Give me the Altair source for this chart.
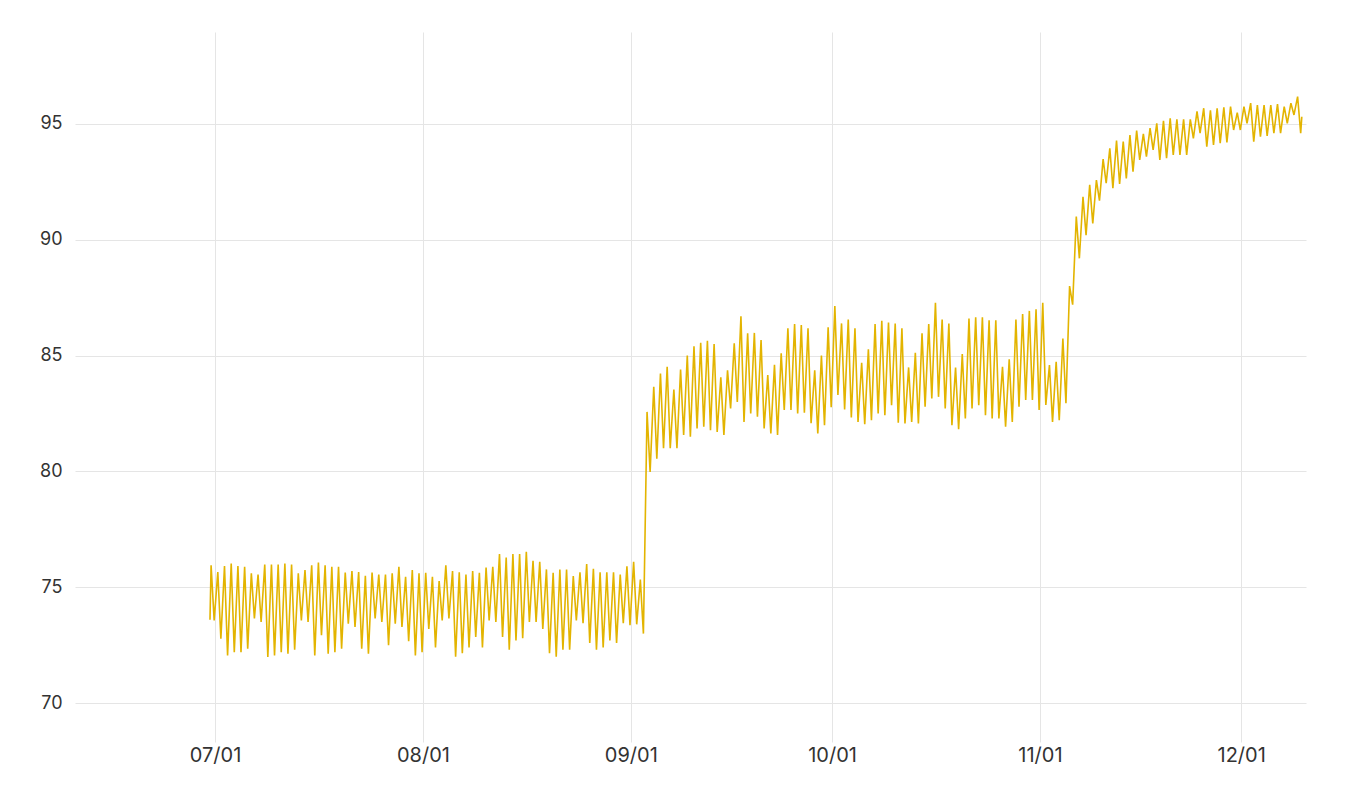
import altair as alt
import pandas as pd

# ---- data (daily high ~10:00, daily low ~21:00) ----
start_time = "2024-06-30 06:00"
start_value = 73.6
end_time = "2024-12-10 01:00"
end_value = 95.31

jun_hi = [75.95]
jun_lo = [73.57]

jul_hi = [75.66, 75.92, 76.02, 75.92, 75.88, 75.60, 75.55, 75.98, 75.98, 75.98,
          76.02, 75.98, 75.60, 75.74, 75.95, 76.07, 75.95, 75.88, 75.88, 75.64,
          75.70, 75.66, 75.50, 75.64, 75.55, 75.55, 75.60, 75.88, 75.45, 75.74,
          75.60]
jul_lo = [72.78, 72.06, 72.20, 72.20, 72.35, 73.65, 73.50, 71.99, 72.06, 72.20,
          72.13, 72.30, 73.57, 73.50, 72.06, 72.93, 72.13, 72.20, 72.35, 73.43,
          73.29, 72.35, 72.13, 73.65, 73.50, 72.50, 73.43, 73.29, 72.67, 72.06,
          72.20]

aug_hi = [75.62, 75.45, 75.27, 75.95, 75.70, 75.65, 75.55, 75.70, 75.62, 75.85,
          75.88, 76.43, 76.28, 76.43, 76.43, 76.53, 76.14, 76.10, 75.77, 75.62,
          75.77, 75.77, 75.48, 75.65, 76.00, 75.80, 75.65, 75.65, 75.65, 75.55,
          75.90]
aug_lo = [73.20, 72.40, 73.57, 73.65, 72.00, 72.15, 72.40, 72.85, 72.40, 73.57,
          73.50, 72.85, 72.30, 72.70, 72.80, 73.50, 73.50, 73.20, 72.15, 72.00,
          72.30, 72.30, 73.57, 73.45, 72.60, 72.30, 72.40, 72.70, 72.60, 73.45,
          73.36]

sep_hi = [76.10, 75.33, 82.57, 83.65, 84.23, 84.52, 83.54, 84.40, 85.00, 85.40,
          85.55, 85.64, 85.50, 84.06, 84.37, 85.53, 86.70, 85.96, 85.98, 85.67,
          84.16, 84.60, 85.10, 86.18, 86.36, 86.32, 86.18, 84.37, 85.00, 86.22]
sep_lo = [73.40, 73.00, 79.98, 80.55, 81.00, 81.00, 81.00, 81.57, 81.50, 81.86,
          81.93, 81.78, 81.70, 81.57, 82.72, 83.00, 82.14, 82.50, 82.36, 81.86,
          81.64, 81.57, 82.65, 82.65, 82.50, 82.53, 82.08, 81.64, 82.00, 82.77]

oct_hi = [87.14, 86.39, 86.56, 86.18, 84.69, 85.27, 86.36, 86.50, 86.43, 86.39,
          86.18, 84.49, 85.12, 85.96, 86.36, 87.28, 86.56, 86.39, 84.49, 85.07,
          86.60, 86.65, 86.65, 86.53, 86.53, 84.52, 84.84, 86.56, 86.79, 86.93,
          87.00]
oct_lo = [83.30, 82.68, 82.33, 82.14, 82.04, 82.21, 82.50, 82.43, 82.86, 82.10,
          82.07, 82.14, 82.07, 82.79, 83.15, 83.22, 82.72, 82.00, 81.82, 82.29,
          82.72, 82.86, 82.43, 82.29, 82.29, 81.93, 82.14, 82.79, 83.08, 83.08,
          82.65]

nov_hi = [87.28, 84.59, 84.73, 85.74, 88.00, 91.00, 91.86, 92.37, 92.58, 93.48,
          93.95, 94.28, 94.24, 94.52, 94.71, 94.57, 94.82, 95.03, 95.14, 95.24,
          95.20, 95.20, 95.20, 95.54, 95.68, 95.59, 95.68, 95.72, 95.75, 95.49]
nov_lo = [82.87, 82.14, 82.21, 82.94, 87.20, 89.20, 90.20, 90.71, 91.69, 92.44,
          92.23, 92.41, 92.65, 92.94, 93.45, 93.59, 93.88, 93.45, 93.52, 93.66,
          93.66, 93.66, 94.38, 94.60, 94.02, 94.10, 94.17, 94.20, 94.74, 94.74]

dec_hi = [95.75, 95.90, 95.82, 95.82, 95.82, 95.86, 95.75, 95.90, 96.18]
dec_lo = [95.03, 94.24, 94.45, 94.48, 94.60, 94.60, 95.03, 95.39, 94.60]

tick_dates = ["2024-07-01", "2024-08-01", "2024-09-01",
              "2024-10-01", "2024-11-01", "2024-12-01"]
y_ticks = [70, 75, 80, 85, 90, 95]

# ---- build the table ----
months = [("2024-06-30", jun_hi, jun_lo), ("2024-07-01", jul_hi, jul_lo),
          ("2024-08-01", aug_hi, aug_lo), ("2024-09-01", sep_hi, sep_lo),
          ("2024-10-01", oct_hi, oct_lo), ("2024-11-01", nov_hi, nov_lo),
          ("2024-12-01", dec_hi, dec_lo)]

rows = [(pd.Timestamp(start_time), start_value)]
for first, his, los in months:
    base = pd.Timestamp(first)
    for i, (h, l) in enumerate(zip(his, los)):
        day = base + pd.Timedelta(days=i)
        rows.append((day + pd.Timedelta(hours=10), h))
        rows.append((day + pd.Timedelta(hours=21), l))
rows.append((pd.Timestamp(end_time), end_value))

df = pd.DataFrame(rows, columns=["t", "v"])
df["t"] = df["t"].dt.strftime("%Y-%m-%dT%H:%M:%S")

tick_vals = [alt.DateTime(year=int(d[:4]), month=int(d[5:7]), date=1) for d in tick_dates]

chart = alt.Chart(df).mark_line(color="#E3B400", strokeWidth=1.6).encode(
    x=alt.X("t:T",
            scale=alt.Scale(domain=[alt.DateTime(year=2024, month=6, date=10, hours=3),
                                    alt.DateTime(year=2024, month=12, date=10, hours=16)]),
            axis=alt.Axis(title=None, values=tick_vals, format="%m/%d",
                          domain=False, ticks=False, labelPadding=3,
                          labelFontSize=20,
                          gridColor="#e5e5e5", gridWidth=1)),
    y=alt.Y("v:Q",
            scale=alt.Scale(domain=[68.32, 98.97], nice=False, zero=False),
            axis=alt.Axis(title=None, values=y_ticks, domain=False, ticks=False,
                          labelPadding=13, labelFontSize=18,
                          gridColor="#e5e5e5", gridWidth=1)),
).properties(
    width=1231, height=710,
    padding={"left": 67, "top": 24, "right": 36, "bottom": 50},
    autosize=alt.AutoSizeParams(type="none"),
).configure_axis(
    labelFont="Inter", labelColor="#333333",
).configure_view(stroke=None)

chart.save("out.html", embed_options={"renderer": "svg", "actions": False})
